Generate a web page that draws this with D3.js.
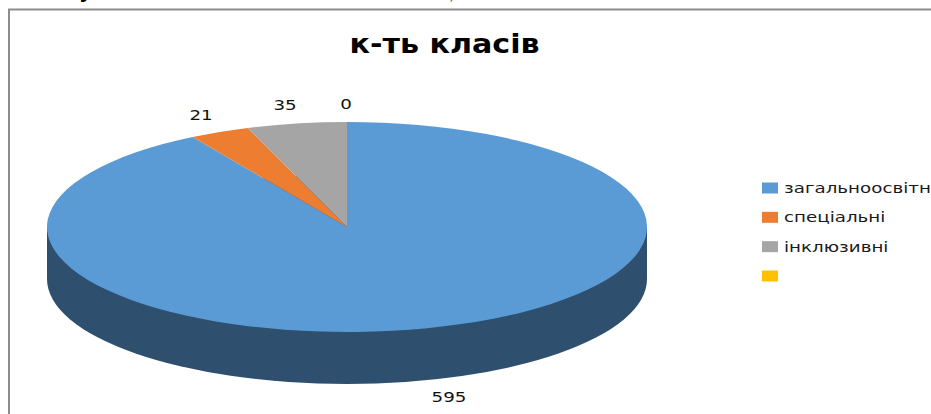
<!DOCTYPE html>
<html>
<head>
<meta charset="utf-8">
<script src="https://cdn.jsdelivr.net/npm/d3@7"></script>
<style>
    html, body { margin: 0; padding: 0; background: #ffffff; overflow: hidden; }
    text { font-family: 'DejaVu Sans', sans-serif; }
</style>
</head>
<body>
<svg id="canvas" width="931" height="414"></svg>
<script>
var categories = ['загальноосвітн', 'спеціальні', 'інклюзивні', ''];
var values = [595, 21, 35, 0];
var colors = ['#5b9bd5', '#ed7d31', '#a5a5a5', '#ffc000'];
var labelSpots = [[449, 397], [201, 115], [285, 105], [346, 104]];

var svg = d3.select('#canvas');
var cx = 347, cy = 227, rx = 300, ratio = 0.35, depth = 52;
var stretch = 1.26; // the picture's text is pulled wider than it is tall

// scraps of the line of text above the chart, cut off by the crop
svg.append('text').attr('x', 79).attr('y', -2).attr('font-size', 20).attr('font-weight', 'bold').attr('font-family', 'Liberation Serif').attr('fill', '#000000').text('у');
svg.append('text').attr('x', 449).attr('y', -1).attr('font-size', 16).attr('font-family', 'Liberation Serif').attr('fill', '#555555').text(')');

// frame, only top and left are in the picture
svg.append('path')
    .attr('d', d3.line()([[9, 414], [9, 9.5], [931, 9.5]]))
    .attr('fill', 'none')
    .attr('stroke', '#8c8c8c')
    .attr('stroke-width', 2);

svg.append('text')
    .attr('transform', 'translate(444.5,53) scale(1.16,1)')
    .attr('text-anchor', 'middle')
    .attr('font-size', 26)
    .attr('font-weight', 'bold')
    .attr('fill', '#000000')
    .text('к-ть класів');

var pie = d3.pie().sort(null).value(function(d) { return d; });
var slices = pie(values);
var arc = d3.arc().innerRadius(0).outerRadius(rx);

// side wall of the disc
svg.append('path')
    .attr('transform', 'translate(' + cx + ',' + (cy + depth) + ') scale(1,' + ratio + ')')
    .attr('d', arc({ startAngle: 0, endAngle: Math.PI * 2 }))
    .attr('fill', '#2e4f6e');
svg.append('rect')
    .attr('x', cx - rx)
    .attr('y', cy)
    .attr('width', rx * 2)
    .attr('height', depth)
    .attr('fill', '#2e4f6e');

svg.append('g')
    .attr('transform', 'translate(' + cx + ',' + cy + ') scale(1,' + ratio + ')')
    .selectAll('path')
    .data(slices)
    .enter().append('path')
    .attr('d', arc)
    .attr('fill', function(d, i) { return colors[i]; });

svg.append('g')
    .selectAll('text')
    .data(values)
    .enter().append('text')
    .attr('transform', function(d, i) {
        return 'translate(' + labelSpots[i][0] + ',' + (labelSpots[i][1] + 5) + ') scale(' + stretch + ',1)';
    })
    .attr('text-anchor', 'middle')
    .attr('font-size', 14.5)
    .attr('fill', '#111111')
    .text(function(d) { return d; });

var legendY = d3.scalePoint().domain(d3.range(categories.length)).range([188, 276]);

var legend = svg.append('g')
    .selectAll('g')
    .data(categories)
    .enter().append('g')
    .attr('transform', function(d, i) { return 'translate(762,' + legendY(i) + ')'; });

legend.append('rect')
    .attr('x', 0)
    .attr('y', -5.5)
    .attr('width', 16)
    .attr('height', 11)
    .attr('fill', function(d, i) { return colors[i]; });

legend.append('text')
    .attr('transform', 'translate(22,5) scale(' + stretch + ',1)')
    .attr('font-size', 14.5)
    .attr('fill', '#1a1a1a')
    .text(function(d) { return d; });
</script>
</body>
</html>
